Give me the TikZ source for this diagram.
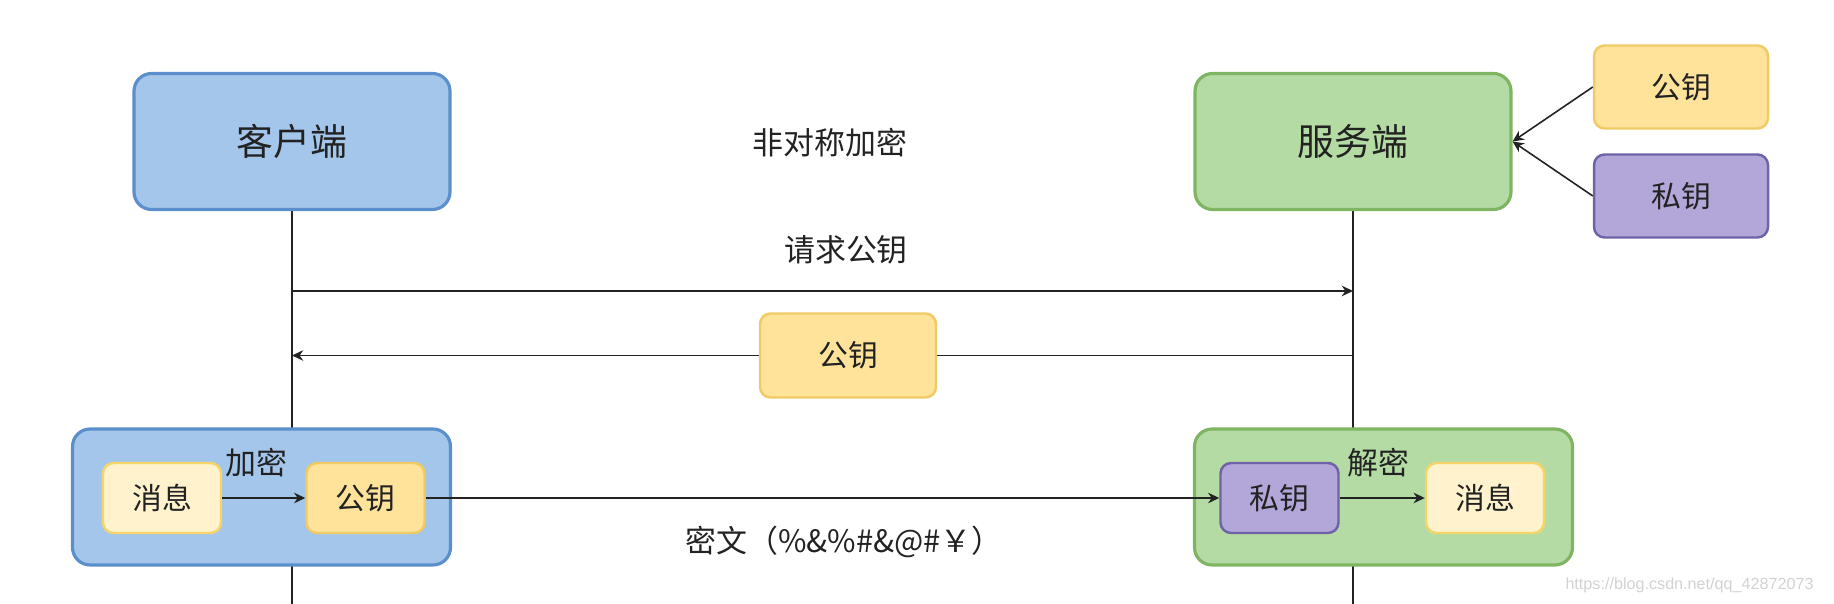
\documentclass[tikz,border=0pt]{standalone}
\usepackage{fontspec}
\setmainfont{Noto Sans CJK SC}
\newfontfamily\urlfont{Liberation Sans}
\usepackage{tikz}
\usetikzlibrary{positioning,arrows.meta,backgrounds}
\definecolor{clientblue}{HTML}{A4C6EB}
\definecolor{clientbluedark}{HTML}{5B8FCC}
\definecolor{servergreen}{HTML}{B5DBA5}
\definecolor{servergreendark}{HTML}{7FB562}
\definecolor{pubyellow}{HTML}{FFE39B}
\definecolor{pubyellowdark}{HTML}{F0CB65}
\definecolor{privpurple}{HTML}{B3A6D9}
\definecolor{privpurpledark}{HTML}{6E63A6}
\definecolor{msgcream}{HTML}{FFF2CC}
\definecolor{msgcreamdark}{HTML}{F5D46A}
\definecolor{inkdark}{HTML}{222222}
\definecolor{wmgray}{HTML}{D2D2D2}

\begin{document}
\begin{tikzpicture}[
      x=0.1mm, y=-0.1mm,
      party/.style={rectangle, rounded corners=5pt, line width=0.9pt,
                    minimum width=31.6mm, minimum height=13.6mm,
                    text=inkdark, font=\fontsize{10.5}{12}\selectfont},
      holder/.style={rectangle, rounded corners=5pt, line width=0.9pt,
                     minimum width=37.8mm, minimum height=13.6mm},
      keybox/.style={rectangle, rounded corners=3pt, line width=0.7pt,
                     minimum width=17.4mm, minimum height=8.3mm,
                     text=inkdark, font=\fontsize{8.5}{10}\selectfont},
      itembox/.style={rectangle, rounded corners=3pt, line width=0.7pt,
                      minimum width=11.8mm, minimum height=7mm,
                      text=inkdark, font=\fontsize{8.5}{10}\selectfont},
      lbl/.style={text=inkdark, font=\fontsize{8.8}{10}\selectfont},
      msgline/.style={-{Stealth[length=3.2pt,width=3pt]}, line width=0.45pt, inkdark},
    ]
    \useasboundingbox (0,0) rectangle (1834,604);

    % top row: the two parties and the server's key pair
    \node[party, fill=clientblue, draw=clientbluedark] (client) at (292,141.5) {客户端};
    \node[party, fill=servergreen, draw=servergreendark] (server) at (1353,141.5) {服务端};
    \node[keybox, fill=pubyellow, draw=pubyellowdark] (pubkey) at (1681,87) {公钥};
    \node[keybox, fill=privpurple, draw=privpurpledark] (privkey) at (1681,196) {私钥};
    \node[lbl] (title) at (830,142.5) {非对称加密};

    \draw[msgline] (pubkey.west) -- (server.east);
    \draw[msgline] (privkey.west) -- (server.east);

    % exchange of the public key
    \coordinate (reqc) at (292,291);
    \coordinate (reqs) at (1353,291);
    \coordinate (retc) at (292,355.5);
    \coordinate (rets) at (1353,355.5);
    \node[lbl] (reqlbl) at (846,250) {请求公钥};
    \node[keybox, fill=pubyellow, draw=pubyellowdark, minimum width=17.6mm, minimum height=8.4mm]
      (sentkey) at (848,355.5) {公钥};

    % bottom row: encrypt on the client, decrypt on the server
    \node[holder, fill=clientblue, draw=clientbluedark] (encbox) at (261.5,497) {};
    \node[itembox, fill=msgcream, draw=msgcreamdark] (plainc) at (162,498) {消息};
    \node[itembox, fill=pubyellow, draw=pubyellowdark] (enckey) at (365.5,498) {公钥};
    \node[lbl] (enclbl) at (256,463) {加密};

    \node[holder, fill=servergreen, draw=servergreendark] (decbox) at (1383.5,497) {};
    \node[itembox, fill=privpurple, draw=privpurpledark] (deckey) at (1279.5,498) {私钥};
    \node[itembox, fill=msgcream, draw=msgcreamdark] (plains) at (1485,498) {消息};
    \node[lbl] (declbl) at (1378,463) {解密};

    \node[lbl] (cipherlbl) at (844,541.5) {密文（\%\&\%\#\&@\#￥）};

    \draw[msgline] (plainc.east) -- (enckey.west);
    \draw[msgline] (deckey.east) -- (plains.west);
    \draw[msgline] (enckey.east) -- (deckey.west);

    % lifelines and the request/response behind the boxes
    \coordinate (clientend) at (292,604);
    \coordinate (serverend) at (1353,604);
    \begin{scope}[on background layer]
      \draw[line width=0.45pt, inkdark] (client.south) -- (clientend);
      \draw[line width=0.45pt, inkdark] (server.south) -- (serverend);
      \draw[msgline] (reqc) -- (reqs);
      \draw[msgline] (rets) -- (retc);
    \end{scope}

    \node[text=wmgray, font=\urlfont\fontsize{4.6}{5}\selectfont, anchor=east] (watermark)
      at (1826,585) {https://blog.csdn.net/qq\_42872073};
  \end{tikzpicture}
\end{document}
